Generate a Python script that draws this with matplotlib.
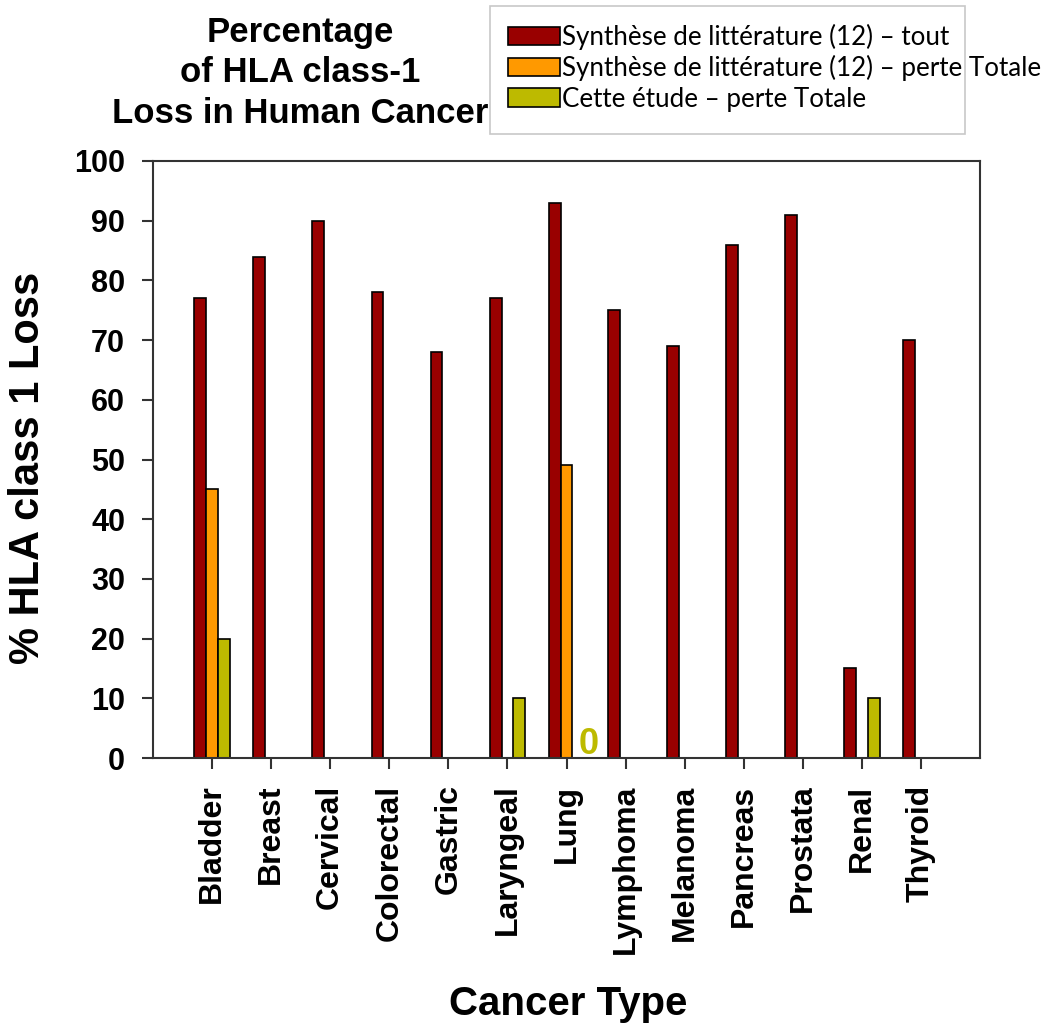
import matplotlib
matplotlib.use("Agg")
import matplotlib.pyplot as plt
from matplotlib.patches import Rectangle
import numpy as np

categories = ["Bladder", "Breast", "Cervical", "Colorectal", "Gastric", "Laryngeal",
              "Lung", "Lymphoma", "Melanoma", "Pancreas", "Prostata", "Renal", "Thyroid"]
lit_all = [77, 84, 90, 78, 68, 77, 93, 75, 69, 86, 91, 15, 70]
lit_total = [45, None, None, None, None, None, 49, None, None, None, None, None, None]
study_total = [20, None, None, None, None, 10, 0, None, None, None, None, 10, None]
series_names = ["Synthèse de littérature (12) – tout",
                "Synthèse de littérature (12) – perte Totale",
                "Cette étude – perte Totale"]
colors = ["#990000", "#FF9900", "#BDBA00"]
yticks = [0, 10, 20, 30, 40, 50, 60, 70, 80, 90, 100]

plt.rcParams['font.family'] = ['Liberation Sans', 'DejaVu Sans']

fig = plt.figure(figsize=(10.5, 10.23), dpi=100)
ax = fig.add_axes([153/1050, 1-758/1023, (980-153)/1050, (758-161)/1023])

w = 0.2
x = np.arange(len(categories))
handles = []
for k, (vals, off) in enumerate(zip([lit_all, lit_total, study_total], [-w, 0, w])):
    xs = [xi + off for xi, v in zip(x, vals) if v is not None and v > 0]
    hs = [v for v in vals if v is not None and v > 0]
    b = ax.bar(xs, hs, width=w, color=colors[k], edgecolor="black", linewidth=1.2,
               label=series_names[k])
    handles.append(b)

# zero-value annotation for "Cette étude" at Lung
lung = categories.index("Lung")
ax.text(lung + 0.37, 0.7, str(study_total[lung]), color=colors[2], fontsize=26,
        fontweight="bold", ha="center", va="baseline")

ax.set_xlim(-1, 13)
ax.set_ylim(0, 100)
ax.set_yticks(yticks)
ax.set_yticklabels([str(t) for t in yticks], fontsize=22, fontweight="bold")
ax.set_xticks(x)
ax.set_xticklabels(categories, rotation=90, fontsize=23, fontweight="bold")
ax.tick_params(axis="both", direction="out", length=8, width=1.5, color="#333333")
ax.tick_params(axis="y", pad=12)
ax.tick_params(axis="x", pad=11)
for s in ax.spines.values():
    s.set_linewidth(1.5)
    s.set_color("#333333")

ax.set_ylabel("% HLA class 1 Loss", fontsize=30, fontweight="bold")
ax.yaxis.set_label_coords(-0.127, 0.486)
ax.set_xlabel("Cancer Type", fontsize=29, fontweight="bold")
ax.xaxis.set_label_coords(0.502, -0.38)

fig.text(300/1050, 1-73/1023, "Percentage\nof HLA class-1\nLoss in Human Cancer",
         ha="center", va="center", fontsize=25, fontweight="bold", linespacing=1.3)

# legend box (drawn separately, text overflows it as in the reference)
fig.patches.append(Rectangle((490/1050, 1-134/1023), (965-490)/1050, (134-6)/1023,
                             transform=fig.transFigure, facecolor="white",
                             edgecolor="#c8c8c8", linewidth=1.2, zorder=0))
leg = fig.legend(handles=handles, labels=series_names, loc="upper left",
                 bbox_to_anchor=(508/1050, 1-24/1023), frameon=False,
                 prop={"family": "Lato", "size": 18.7}, handlelength=2.0,
                 handleheight=0.7, handletextpad=0.08, labelspacing=0.2,
                 borderaxespad=0, borderpad=0)

fig.savefig("out.png", dpi=100)
